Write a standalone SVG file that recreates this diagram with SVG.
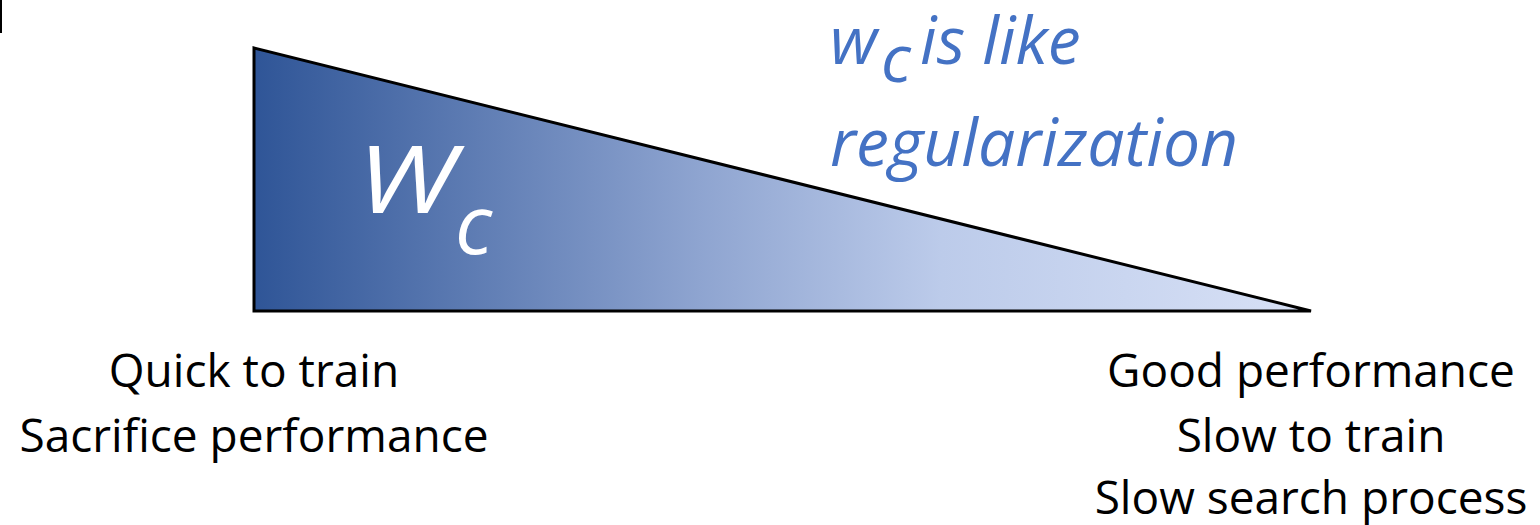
<svg xmlns="http://www.w3.org/2000/svg" width="1540" height="525" viewBox="0 0 1540 525">
<style>
.lbl{font-family:"Open Sans","Liberation Sans",sans-serif;font-size:46px;fill:#000;text-anchor:middle}
.blue{font-family:"Open Sans","Liberation Sans",sans-serif;font-style:italic;font-size:66px;fill:#4472C4}
.wc{font-family:"Open Sans","Liberation Sans",sans-serif;font-style:italic;fill:#fff}
</style>
<defs>
<linearGradient id="g" x1="0" y1="0" x2="1" y2="0">
<stop offset="0" stop-color="#2F5597"/>
<stop offset="0.42" stop-color="#8EA4D0"/>
<stop offset="0.65" stop-color="#BCCBEA"/>
<stop offset="1" stop-color="#D8E1F6"/>
</linearGradient>
</defs>
<rect width="1540" height="525" fill="#fff"/>
<line x1="1" y1="0" x2="1" y2="33" stroke="#000" stroke-width="2"/>
<g id="triangle">
<polygon points="254,48 254,311 1311,311" fill="url(#g)" stroke="#000" stroke-width="3" stroke-linejoin="miter"/>
<text class="wc" x="357" y="213" font-size="94" font-weight="500" textLength="98" lengthAdjust="spacingAndGlyphs">W</text>
<text class="wc" x="455" y="254" font-size="82" font-weight="500">c</text>
</g>
<g id="note">
<text class="blue" x="830" y="64">w</text>
<text class="blue" x="881" y="82" font-size="42">c</text>
<text class="blue" x="920" y="64">is like</text>
<text class="blue" x="830" y="166">regularization</text>
</g>
<g id="left-labels">
<text class="lbl" x="254" y="387">Quick to train</text>
<text class="lbl" x="254" y="452">Sacrifice performance</text>
</g>
<g id="right-labels">
<text class="lbl" x="1311" y="387">Good performance</text>
<text class="lbl" x="1311" y="452">Slow to train</text>
<text class="lbl" x="1311" y="514">Slow search process</text>
</g>
</svg>
